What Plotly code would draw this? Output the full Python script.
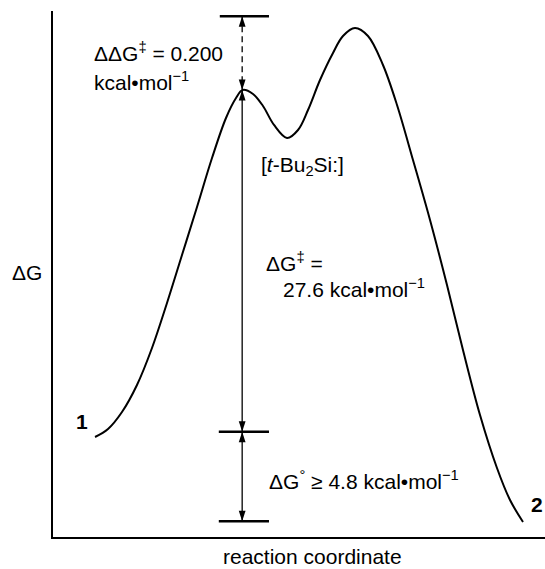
import plotly.graph_objects as go

# ---------------- data (arbitrary reaction-coordinate / free-energy units) ----------------
rc = [8.54, 11.18, 14.02, 17.07, 20.12, 23.17, 26.22, 29.27, 32.32, 35.16, 37.20, 38.55,
      40.65, 42.68, 44.92, 47.56, 49.80, 51.83, 54.27, 56.91, 58.94, 61.38, 64.02, 67.07,
      69.92, 73.17, 76.63, 80.08, 83.33, 86.79, 90.24, 92.89, 95.53]
dG = [19.01, 20.53, 23.76, 28.90, 35.93, 44.49, 53.61, 62.74, 72.05, 79.66, 83.46, 84.98,
      84.22, 81.94, 78.33, 75.86, 77.38, 81.18, 86.88, 92.02, 95.25, 96.77, 95.25, 89.73,
      82.13, 71.67, 60.27, 47.91, 35.55, 23.19, 13.12, 7.03, 2.85]

# reference levels drawn as short bars
level_names = ["TS2", "TS1", "1", "2"]
level_y = [99.0, 84.98, 20.0, 3.0]
bar_x0 = [33.9, None, 33.7, 33.7]
bar_x1 = [43.9, None, 43.9, 43.9]

arrow_x = 38.45
# (from level, to level, dashed?)
arrow_pairs = [(0, 1, True), (1, 2, False), (2, 3, False)]

FONT = "Liberation Sans, Arial, Helvetica, sans-serif"

fig = go.Figure()

# energy profile
fig.add_trace(go.Scatter(x=rc, y=dG, mode="lines",
                         line=dict(color="black", width=2, shape="spline", smoothing=1.0),
                         hoverinfo="skip", showlegend=False))

# level bars
for x0, x1, y in zip(bar_x0, bar_x1, level_y):
    if x0 is None:
        continue
    fig.add_trace(go.Scatter(x=[x0, x1], y=[y, y], mode="lines",
                             line=dict(color="black", width=2.5),
                             hoverinfo="skip", showlegend=False))

# arrow shafts and heads
head_x, head_y, head_ang = [], [], []
for a, b, dashed in arrow_pairs:
    ya, yb = level_y[a], level_y[b]
    fig.add_trace(go.Scatter(x=[arrow_x, arrow_x], y=[ya, yb], mode="lines",
                             line=dict(color="black", width=1.3,
                                       dash="6px,4px" if dashed else "solid"),
                             hoverinfo="skip", showlegend=False))
    head_x += [arrow_x, arrow_x]
    head_y += [ya, yb]
    head_ang += [0, 180]

fig.add_trace(go.Scatter(x=head_x, y=head_y, mode="markers",
                         marker=dict(symbol="arrow", size=11, color="black",
                                     angle=head_ang, line=dict(width=0)),
                         hoverinfo="skip", showlegend=False))

txt = dict(family=FONT, size=21, color="black")

ann_data = [
    dict(x=7.9, y=92.3, text="ΔΔG<sup>‡</sup> = 0.200", xanchor="left", yanchor="middle"),
    dict(x=7.9, y=86.6, text="kcal•mol<sup>−1</sup>", xanchor="left", yanchor="middle"),
    dict(x=41.9, y=70.5, text="[<i>t</i>-Bu<sub>2</sub>Si:]", xanchor="left", yanchor="middle"),
    dict(x=42.9, y=52.3, text="ΔG<sup>‡</sup> =", xanchor="left", yanchor="middle"),
    dict(x=46.3, y=47.3, text="27.6 kcal•mol<sup>−1</sup>", xanchor="left", yanchor="middle"),
    dict(x=43.5, y=10.9, text="ΔG<sup>°</sup> ≥ 4.8 kcal•mol<sup>−1</sup>", xanchor="left", yanchor="middle"),
    dict(x=5.9, y=21.9, text="<b>1</b>", xanchor="center", yanchor="middle"),
    dict(x=98.4, y=6.1, text="<b>2</b>", xanchor="center", yanchor="middle"),
]
for a in ann_data:
    fig.add_annotation(xref="x", yref="y", showarrow=False, font=txt, **a)

ann_paper = [
    dict(x=-0.053, y=0.502, text="ΔG", xanchor="center", yanchor="middle"),
    dict(x=0.528, y=-0.038, text="reaction coordinate", xanchor="center", yanchor="middle"),
]
for a in ann_paper:
    fig.add_annotation(xref="paper", yref="paper", showarrow=False, font=txt, **a)

axis_common = dict(showline=True, linecolor="black", linewidth=2, mirror=False,
                   showticklabels=False, ticks="", showgrid=False, zeroline=False,
                   fixedrange=True)
fig.update_xaxes(range=[0, 100], **axis_common)
fig.update_yaxes(range=[0, 100], **axis_common)

fig.update_layout(width=545, height=569,
                  margin=dict(l=53, r=0, t=11, b=32, pad=0),
                  plot_bgcolor="white", paper_bgcolor="white",
                  font=dict(family=FONT, color="black"))

fig.write_html("out.html", config={"displayModeBar": False})
